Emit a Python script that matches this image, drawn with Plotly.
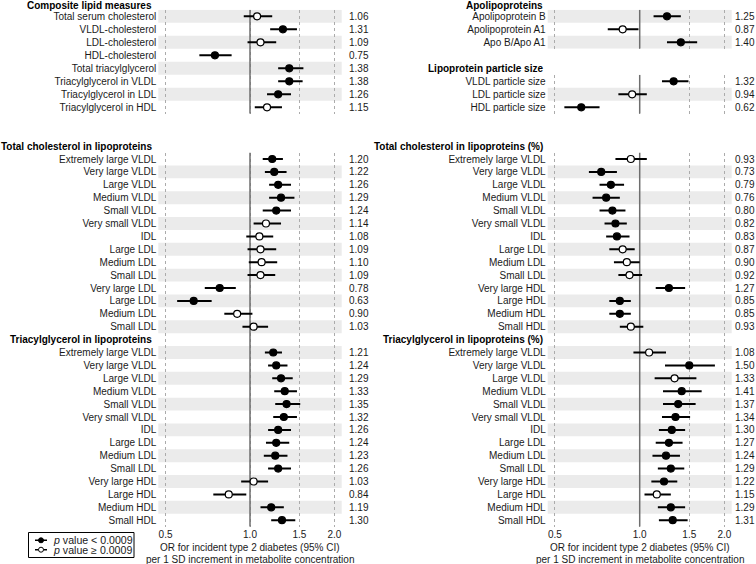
import plotly.graph_objects as go

W, H = 756, 564
FONT = "Liberation Sans, Arial, sans-serif"

# ---------------- data ----------------
comp_labels = ["Total serum cholesterol", "VLDL-cholesterol", "LDL-cholesterol", "HDL-cholesterol",
               "Total triacylglycerol", "Triacylglycerol in VLDL", "Triacylglycerol in LDL",
               "Triacylglycerol in HDL"]
comp_or = [1.06, 1.31, 1.09, 0.75, 1.38, 1.38, 1.26, 1.15]
comp_lo = [0.95, 1.18, 0.98, 0.66, 1.26, 1.26, 1.15, 1.04]
comp_hi = [1.20, 1.47, 1.24, 0.86, 1.55, 1.54, 1.40, 1.30]
comp_sig = [0, 1, 0, 1, 1, 1, 1, 0]

apo_labels = ["Apolipoprotein B", "Apolipoprotein A1", "Apo B/Apo A1"]
apo_or = [1.25, 0.87, 1.40]
apo_lo = [1.12, 0.77, 1.25]
apo_hi = [1.40, 0.99, 1.60]
apo_sig = [1, 0, 1]

size_labels = ["VLDL particle size", "LDL particle size", "HDL particle size"]
size_or = [1.32, 0.94, 0.62]
size_lo = [1.20, 0.84, 0.54]
size_hi = [1.49, 1.06, 0.72]
size_sig = [1, 0, 1]

tc_labels = ["Extremely large VLDL", "Very large VLDL", "Large VLDL", "Medium VLDL", "Small VLDL",
             "Very small VLDL", "IDL", "Large LDL", "Medium LDL", "Small LDL",
             "Very large LDL", "Large LDL", "Medium LDL", "Small LDL"]
tc_or = [1.20, 1.22, 1.26, 1.29, 1.24, 1.14, 1.08, 1.09, 1.10, 1.09, 0.78, 0.63, 0.90, 1.03]
tc_lo = [1.11, 1.13, 1.17, 1.17, 1.11, 1.03, 0.97, 0.98, 0.99, 0.98, 0.69, 0.55, 0.81, 0.94]
tc_hi = [1.31, 1.35, 1.40, 1.44, 1.40, 1.29, 1.21, 1.24, 1.25, 1.23, 0.89, 0.73, 1.02, 1.16]
tc_sig = [1, 1, 1, 1, 1, 0, 0, 0, 0, 0, 1, 1, 0, 0]

tg_labels = ["Extremely large VLDL", "Very large VLDL", "Large VLDL", "Medium VLDL", "Small VLDL",
             "Very small VLDL", "IDL", "Large LDL", "Medium LDL", "Small LDL",
             "Very large HDL", "Large HDL", "Medium HDL", "Small HDL"]
tg_or = [1.21, 1.24, 1.29, 1.33, 1.35, 1.32, 1.26, 1.24, 1.23, 1.26, 1.03, 0.84, 1.19, 1.30]
tg_lo = [1.13, 1.16, 1.20, 1.22, 1.23, 1.21, 1.16, 1.14, 1.12, 1.16, 0.93, 0.74, 1.09, 1.19]
tg_hi = [1.30, 1.36, 1.42, 1.47, 1.51, 1.47, 1.40, 1.38, 1.36, 1.40, 1.16, 0.97, 1.32, 1.45]
tg_sig = [1, 1, 1, 1, 1, 1, 1, 1, 1, 1, 0, 0, 1, 1]

tcp_labels = ["Extremely large VLDL", "Very large VLDL", "Large VLDL", "Medium VLDL", "Small VLDL",
              "Very small VLDL", "IDL", "Large LDL", "Medium LDL", "Small LDL",
              "Very large HDL", "Large HDL", "Medium HDL", "Small HDL"]
tcp_or = [0.93, 0.73, 0.79, 0.76, 0.80, 0.82, 0.83, 0.87, 0.90, 0.92, 1.27, 0.85, 0.85, 0.93]
tcp_lo = [0.82, 0.66, 0.72, 0.68, 0.72, 0.75, 0.76, 0.78, 0.81, 0.84, 1.14, 0.78, 0.78, 0.85]
tcp_hi = [1.06, 0.83, 0.88, 0.85, 0.89, 0.90, 0.92, 0.96, 1.00, 1.02, 1.45, 0.93, 0.93, 1.03]
tcp_sig = [0, 1, 1, 1, 1, 1, 1, 0, 0, 0, 1, 1, 1, 0]

tgp_labels = ["Extremely large VLDL", "Very large VLDL", "Large VLDL", "Medium VLDL", "Small VLDL",
              "Very small VLDL", "IDL", "Large LDL", "Medium LDL", "Small LDL",
              "Very large HDL", "Large HDL", "Medium HDL", "Small HDL"]
tgp_or = [1.08, 1.50, 1.33, 1.41, 1.37, 1.34, 1.30, 1.27, 1.24, 1.29, 1.22, 1.15, 1.29, 1.31]
tgp_lo = [0.95, 1.23, 1.13, 1.21, 1.21, 1.20, 1.17, 1.14, 1.11, 1.16, 1.10, 1.04, 1.16, 1.17]
tgp_hi = [1.24, 1.85, 1.59, 1.66, 1.58, 1.51, 1.45, 1.42, 1.39, 1.44, 1.36, 1.29, 1.45, 1.48]
tgp_sig = [0, 1, 0, 1, 1, 1, 1, 1, 1, 1, 1, 0, 1, 1]

x_ticks = [0.5, 1.0, 1.5, 2.0]
x_ticktext = ["0.5", "1.0", "1.5", "2.0"]
legend_text = ["<i>p</i> value &lt; 0.0009", "<i>p</i> value ≥ 0.0009"]
axis_title = ["OR for incident type 2 diabetes (95% CI)",
              "per 1 SD increment in metabolite concentration"]

# ---------------- layout geometry (pixels) ----------------
LEFT_X = (158.3, 341.7)
RIGHT_X = (547.7, 731.7)
LEFT_VAL_X = 347
RIGHT_VAL_X = 733
LEFT_LAB_X = 154
RIGHT_LAB_X = 544.5
XRANGE = [-0.3268, 0.3268]

fig = go.Figure()
layout = dict(width=W, height=H, margin=dict(l=0, r=0, t=0, b=0),
              paper_bgcolor="white", plot_bgcolor="white", showlegend=False,
              font=dict(family=FONT, size=10, color="#1a1a1a"))
shapes, annotations = [], []


def px_x(p):
    return p / W


def px_y(p):
    return 1 - p / H


def add_panel(k, sections, xpx, row0, step, shade_parity, show_xt, lab_x, val_x, title_dy=0.0):
    """sections: list of (title, start_row, labels, or, lo, hi, sig)"""
    n = max(s[1] + len(s[2]) for s in sections)
    top = row0 - step / 2
    bot = row0 + (n - 1) * step + step / 2
    xa = "xaxis" if k == 1 else f"xaxis{k}"
    ya = "yaxis" if k == 1 else f"yaxis{k}"
    xr = "x" if k == 1 else f"x{k}"
    yr = "y" if k == 1 else f"y{k}"
    tickvals, ticktext = [], []
    fig.add_trace(go.Scatter(x=[1, 1], y=[-0.5, n - 0.5], mode="lines",
                             line=dict(color="#6e6e6e", width=1.5), xaxis=xr, yaxis=yr,
                             hoverinfo="skip"))
    for title, start, labels, o, lo, hi, sig in sections:
        ys = [start + i for i in range(len(labels))]
        tickvals += ys
        ticktext += labels
        ty = row0 + (start - 1) * step + (title_dy if start == 0 else 0)
        annotations.append(dict(text=f"<b>{title}</b>", xref="paper", x=px_x(lab_x),
                                xanchor="right", yref="paper", y=px_y(ty), yanchor="middle",
                                showarrow=False, font=dict(size=10, color="black")))
        fig.add_trace(go.Scatter(
            x=o, y=ys, mode="markers", xaxis=xr, yaxis=yr,
            error_x=dict(type="data", symmetric=False,
                         array=[h - v for h, v in zip(hi, o)],
                         arrayminus=[v - l for v, l in zip(o, lo)],
                         color="black", thickness=2, width=0),
            marker=dict(size=7, symbol="circle",
                        color=["black" if s else "white" for s in sig],
                        line=dict(color="black", width=1.2)),
        ))
        for yv, v in zip(ys, o):
            annotations.append(dict(text=f"{v:.2f}", xref="paper", x=px_x(val_x), xanchor="left",
                                    yref=yr, y=yv, yanchor="middle", showarrow=False,
                                    font=dict(size=10, color="#1a1a1a")))
    for r in range(n):
        if r % 2 == shade_parity and any(s[1] <= r < s[1] + len(s[2]) for s in sections):
            shapes.append(dict(type="rect", xref=f"{xr} domain", x0=0, x1=1, yref=yr,
                               y0=r - 0.5, y1=r + 0.5, fillcolor="#ebebeb",
                               line=dict(width=0), layer="below"))
    layout[xa] = dict(type="log", range=XRANGE, domain=[px_x(xpx[0]), px_x(xpx[1])],
                      anchor=yr, tickvals=x_ticks, ticktext=x_ticktext,
                      showticklabels=show_xt, ticks="", showline=False, zeroline=False,
                      showgrid=True, gridcolor="#ababab", gridwidth=1, griddash="3px,3px",
                      tickfont=dict(size=10, color="#1a1a1a"), fixedrange=True)
    layout[ya] = dict(range=[n - 0.5, -0.5], domain=[px_y(bot), px_y(top)], anchor=xr,
                      tickvals=tickvals, ticktext=ticktext, ticks="", showgrid=False,
                      zeroline=False, showline=False, tickfont=dict(size=10, color="#1a1a1a"),
                      ticklabelstandoff=1, fixedrange=True)


add_panel(1, [("Composite lipid measures", 0, comp_labels, comp_or, comp_lo, comp_hi, comp_sig)],
          LEFT_X, 16.3, 13.0, 0, False, LEFT_LAB_X, LEFT_VAL_X, title_dy=2.2)
add_panel(2, [("Total cholesterol in lipoproteins", 0, tc_labels, tc_or, tc_lo, tc_hi, tc_sig),
              ("Triacylglycerol in lipoproteins", 15, tg_labels, tg_or, tg_lo, tg_hi, tg_sig)],
          LEFT_X, 159.0, 12.9, 1, True, LEFT_LAB_X, LEFT_VAL_X)
add_panel(3, [("Apolipoproteins", 0, apo_labels, apo_or, apo_lo, apo_hi, apo_sig)],
          RIGHT_X, 16.3, 13.0, 0, False, RIGHT_LAB_X, RIGHT_VAL_X, title_dy=2.2)
add_panel(4, [("Lipoprotein particle size", 0, size_labels, size_or, size_lo, size_hi, size_sig)],
          RIGHT_X, 81.3, 13.0, 1, False, RIGHT_LAB_X, RIGHT_VAL_X)
add_panel(5, [("Total cholesterol in lipoproteins (%)", 0, tcp_labels, tcp_or, tcp_lo, tcp_hi, tcp_sig),
              ("Triacylglycerol in lipoproteins (%)", 15, tgp_labels, tgp_or, tgp_lo, tgp_hi, tgp_sig)],
          RIGHT_X, 159.0, 12.9, 1, True, RIGHT_LAB_X, RIGHT_VAL_X)

# axis titles
for cx in [(LEFT_X[0] + LEFT_X[1]) / 2, (RIGHT_X[0] + RIGHT_X[1]) / 2]:
    for line, ypx in zip(axis_title, [547.5, 559.5]):
        annotations.append(dict(text=line, xref="paper", x=px_x(cx), xanchor="center",
                                yref="paper", y=px_y(ypx), yanchor="middle", showarrow=False,
                                font=dict(size=10, color="#1a1a1a")))

# legend (custom key)
leg_rows = [0, 1]
fig.add_trace(go.Scatter(x=[0, 0.5, 1], y=[0, 0, 0], mode="lines", xaxis="x6", yaxis="y6",
                         line=dict(color="black", width=1.5), hoverinfo="skip"))
fig.add_trace(go.Scatter(x=[0, 0.5, 1], y=[1, 1, 1], mode="lines", xaxis="x6", yaxis="y6",
                         line=dict(color="black", width=1.5), hoverinfo="skip"))
fig.add_trace(go.Scatter(x=[0.5, 0.5], y=leg_rows, mode="markers", xaxis="x6", yaxis="y6",
                         marker=dict(size=5, color=["black", "white"],
                                     line=dict(color="black", width=1)), hoverinfo="skip"))
layout["xaxis6"] = dict(domain=[px_x(35), px_x(47)], range=[0, 1], visible=False,
                        anchor="y6", fixedrange=True)
layout["yaxis6"] = dict(domain=[px_y(554.4), px_y(535.6)], range=[1.5, -0.5], visible=False,
                        anchor="x6", fixedrange=True)
for r, t in zip(leg_rows, legend_text):
    annotations.append(dict(text=t, xref="paper", x=px_x(51), xanchor="left", yref="y6", y=r,
                            yanchor="middle", showarrow=False,
                            font=dict(size=10.6, color="#1a1a1a")))
shapes.append(dict(type="rect", xref="paper", yref="paper", x0=px_x(28.5), x1=px_x(134),
                   y0=px_y(557.5), y1=px_y(532.5), line=dict(color="black", width=1),
                   fillcolor="rgba(0,0,0,0)", layer="above"))

layout["shapes"] = shapes
layout["annotations"] = annotations
fig.update_layout(**layout)
fig.write_html("out.html", config={"displayModeBar": False},
               post_script="document.body.style.margin='0';document.body.style.padding='0';")
